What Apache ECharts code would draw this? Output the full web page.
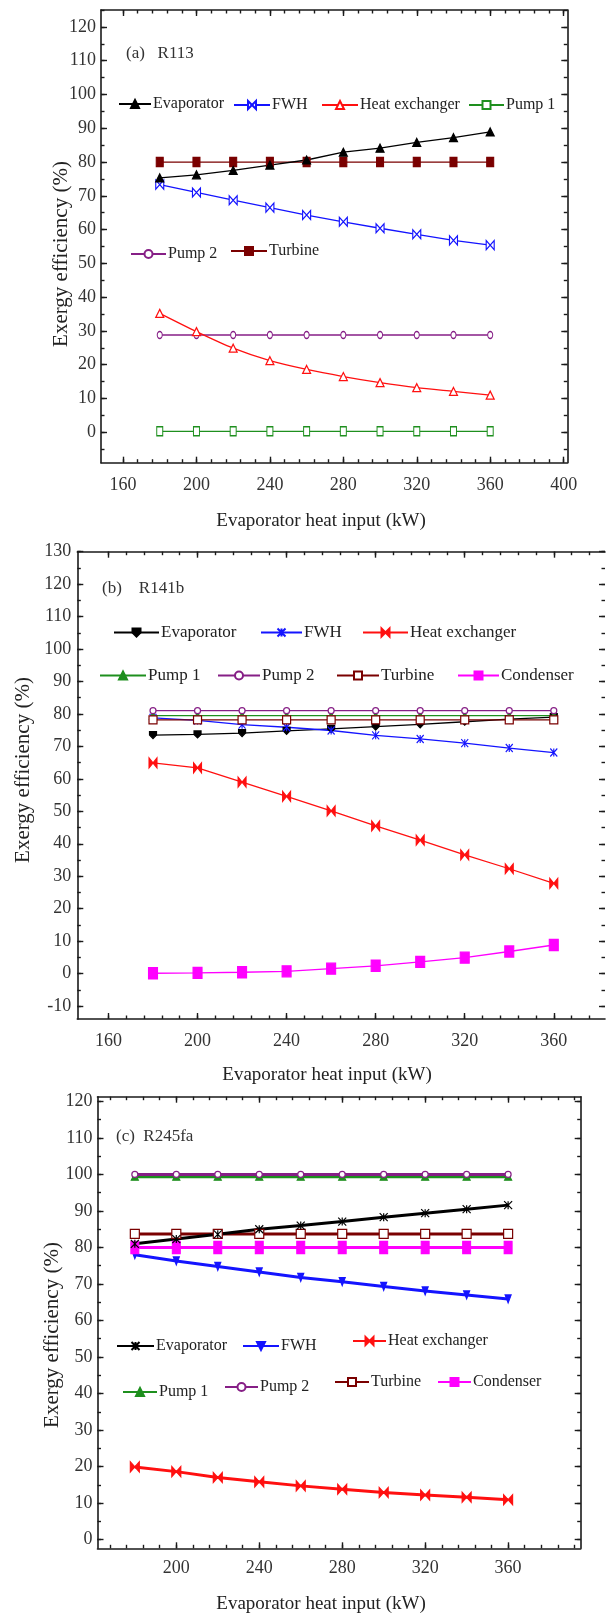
<!DOCTYPE html>
<html><head><meta charset="utf-8">
<script src="https://cdn.jsdelivr.net/npm/echarts@6/dist/echarts.min.js"></script>
<style>html,body{margin:0;padding:0;background:#fff}#c{width:607px;height:1618px}</style>
</head><body><div id="c"></div>
<script>
// ---------- DATA ----------
const xValues = [180, 200, 220, 240, 260, 280, 300, 320, 340, 360];

// Panel (a) R113
const a_evaporator = [75.3, 76.2, 77.5, 79.1, 80.6, 82.9, 84.1, 85.8, 87.2, 88.9];
const a_fwh        = [73.3, 71.0, 68.7, 66.5, 64.3, 62.3, 60.4, 58.6, 56.8, 55.4];
const a_heatExch   = [35.2, 29.8, 24.9, 21.2, 18.6, 16.5, 14.7, 13.2, 12.1, 11.0];
const a_pump1      = [0.3, 0.3, 0.3, 0.3, 0.3, 0.3, 0.3, 0.3, 0.3, 0.3];
const a_pump2      = [28.8, 28.8, 28.8, 28.8, 28.8, 28.8, 28.8, 28.8, 28.8, 28.8];
const a_turbine    = [80.0, 80.0, 80.0, 80.0, 80.0, 80.0, 80.0, 80.0, 80.0, 80.0];

// Panel (b) R141b
const b_evaporator = [73.5, 73.7, 74.1, 74.8, 75.4, 76.1, 76.8, 77.6, 78.4, 79.0];
const b_fwh        = [78.8, 78.0, 76.7, 75.9, 74.9, 73.4, 72.3, 71.0, 69.5, 68.1];
const b_heatExch   = [64.9, 63.4, 59.0, 54.6, 50.1, 45.5, 41.1, 36.6, 32.3, 27.8];
const b_pump1      = [79.5, 79.5, 79.5, 79.5, 79.5, 79.5, 79.5, 79.5, 79.5, 79.5];
const b_pump2      = [81.0, 81.0, 81.0, 81.0, 81.0, 81.0, 81.0, 81.0, 81.0, 81.0];
const b_turbine    = [78.2, 78.2, 78.2, 78.2, 78.2, 78.2, 78.2, 78.2, 78.2, 78.2];
const b_condenser  = [0.1, 0.2, 0.4, 0.7, 1.5, 2.4, 3.6, 4.9, 6.8, 8.8];

// Panel (c) R245fa
const c_evaporator = [81.0, 82.3, 83.6, 85.0, 86.0, 87.1, 88.3, 89.4, 90.5, 91.6];
const c_fwh        = [78.0, 76.3, 74.8, 73.3, 71.8, 70.6, 69.3, 68.1, 67.0, 65.9];
const c_heatExch   = [19.9, 18.6, 17.0, 15.8, 14.7, 13.8, 12.9, 12.2, 11.6, 10.9];
const c_pump1      = [99.4, 99.4, 99.4, 99.4, 99.4, 99.4, 99.4, 99.4, 99.4, 99.4];
const c_pump2      = [100.0, 100.0, 100.0, 100.0, 100.0, 100.0, 100.0, 100.0, 100.0, 100.0];
const c_turbine    = [83.7, 83.7, 83.7, 83.7, 83.7, 83.7, 83.7, 83.7, 83.7, 83.7];
const c_condenser  = [80.0, 80.0, 80.0, 80.0, 80.0, 80.0, 80.0, 80.0, 80.0, 80.0];

// Tick labels
const a_xTicks = [160, 200, 240, 280, 320, 360, 400];
const a_yTicks = [0, 10, 20, 30, 40, 50, 60, 70, 80, 90, 100, 110, 120];
const b_xTicks = [160, 200, 240, 280, 320, 360];
const b_yTicks = [-10, 0, 10, 20, 30, 40, 50, 60, 70, 80, 90, 100, 110, 120, 130];
const c_xTicks = [200, 240, 280, 320, 360];
const c_yTicks = [0, 10, 20, 30, 40, 50, 60, 70, 80, 90, 100, 110, 120];

const xTitle = 'Evaporator heat input (kW)';
const yTitle = 'Exergy efficiency (%)';

// ---------- STYLE ----------
const FONT = "'Liberation Serif','Times New Roman',serif";
const AX = '#1a1a1a';
const COL = {black:'#000000', blue:'#1414ff', red:'#ff1010', green:'#1e8f1e', purple:'#861f86', dred:'#7a0000', mag:'#ff00ff'};
const BOWTIE = 'path://M0,0 L0,10 L10,0 L10,10 Z';
const CROSS = 'path://M0,0 L10,10 M10,0 L0,10 M5,0 L5,10';
const PENT = 'path://M0,0 L10,0 L10,5 L5,10 L0,5 Z';

function pair(xs, ys){ return xs.map((x,i)=>[x, ys[i]]); }
function minorList(lo, hi, step, start){ const r=[]; for(let v=start; v<=hi+1e-9; v+=step){ if(v>=lo) r.push(v);} return r; }

const option = {animation:false, backgroundColor:'#fff', grid:[], xAxis:[], yAxis:[], series:[], legend:[], graphic:[]};

function addPanel(p){
  const gi = option.grid.length;
  option.grid.push({left:p.left, top:p.top, width:p.width, height:p.height, containLabel:false, outerBoundsMode:'none'});
  const xi = option.xAxis.length, yi = option.yAxis.length;
  const line = {show:true, onZero:false, lineStyle:{color:AX, width:1.6}};
  const noLine = {show:false, onZero:false};
  const lbl = {fontFamily:FONT, fontSize:18, color:'#333'};
  const tk = (len, vals)=>({show:true, inside:true, length:len, customValues:vals, lineStyle:{color:AX, width:1.4}});
  const base = {type:'value', gridIndex:gi, min:p.xMin, max:p.xMax, splitLine:{show:false}};
  option.xAxis.push(Object.assign({}, base, {position:'bottom', axisLine:line, axisTick:tk(6, p.xTicks),
    axisLabel:Object.assign({customValues:p.xTicks, margin:p.xMargin}, lbl)}));
  option.xAxis.push(Object.assign({}, base, {position:'bottom', axisLine:noLine, axisTick:tk(3.5, p.xMinor), axisLabel:{show:false}}));
  option.xAxis.push(Object.assign({}, base, {position:'top', axisLine:line, axisTick:tk(6, p.xTicks), axisLabel:{show:false}}));
  option.xAxis.push(Object.assign({}, base, {position:'top', axisLine:noLine, axisTick:tk(3.5, p.xMinor), axisLabel:{show:false}}));
  const ybase = {type:'value', gridIndex:gi, min:p.yMin, max:p.yMax, splitLine:{show:false}};
  option.yAxis.push(Object.assign({}, ybase, {position:'left', axisLine:line, axisTick:tk(6, p.yTicks),
    axisLabel:Object.assign({customValues:p.yTicks, margin:p.yMargin}, lbl)}));
  option.yAxis.push(Object.assign({}, ybase, {position:'left', axisLine:noLine, axisTick:tk(3.5, p.yMinor), axisLabel:{show:false}}));
  option.yAxis.push(Object.assign({}, ybase, {position:'right', axisLine:p.rightLine===false?noLine:line, axisTick:tk(6, p.yTicks), axisLabel:{show:false}}));
  option.yAxis.push(Object.assign({}, ybase, {position:'right', axisLine:noLine, axisTick:tk(3.5, p.yMinor), axisLabel:{show:false}}));

  p.series.forEach(s=>{
    option.series.push({
      type:'line', name:p.key+'|'+s.name, xAxisIndex:xi, yAxisIndex:yi,
      data:pair(xValues, s.data), symbol:s.symbol, symbolSize:s.size, symbolRotate:s.rotate||0,
      showAllSymbol:true, smooth:s.smooth||false, z:s.z||2,
      lineStyle:{color:s.color, width:p.lw},
      itemStyle:{color:s.fill, borderColor:s.color, borderWidth:s.bw==null?1.2:s.bw},
      emphasis:{disabled:true}
    });
  });
  p.legends.forEach(L=>{
    option.legend.push({
      data:[p.key+'|'+L.name], left:L.x, top:L.y - 9, padding:0, selectedMode:false,
      itemWidth:L.w, itemHeight:10, formatter:n=>n.split('|')[1],
      textStyle:{fontFamily:FONT, fontSize:p.legendFont, color:'#222', padding:[0,0,0,-3]}
    });
  });
  option.graphic.push({type:'text', left:p.tag.x, top:p.tag.y - 10,
    style:{text:p.tag.text, font:'17px '+FONT, fill:'#333'}});
  option.graphic.push({type:'text', x:p.xt.x, y:p.xt.y,
    style:{text:xTitle, font:'19px '+FONT, fill:'#222', align:'center', verticalAlign:'middle'}});
  option.graphic.push({type:'text', x:p.yt.x, y:p.yt.y, rotation:Math.PI/2,
    style:{text:yTitle, font:'21px '+FONT, fill:'#222', align:'center', verticalAlign:'middle'}});
}

// Panel (a)
addPanel({key:'a', left:101, top:10, width:466.3, height:452.7, xMin:148, xMax:402, yMin:-9, yMax:125,
  xTicks:a_xTicks, yTicks:a_yTicks, xMinor:minorList(160,402,8,160), yMinor:minorList(-9,125,5,-5),
  xMargin:14, yMargin:5, lw:1.3, legendFont:16,
  series:[
    {name:'Pump 1', data:a_pump1, color:COL.green, fill:'#fff', symbol:'rect', size:[6,9]},
    {name:'Pump 2', data:a_pump2, color:COL.purple, fill:'#fff', symbol:'circle', size:[5,7]},
    {name:'Heat exchanger', data:a_heatExch, color:COL.red, fill:'#fff', symbol:'triangle', size:8, smooth:0.25},
    {name:'FWH', data:a_fwh, color:COL.blue, fill:'#fff', symbol:BOWTIE, size:[8,9]},
    {name:'Turbine', data:a_turbine, color:COL.dred, fill:COL.dred, symbol:'rect', size:[7,9]},
    {name:'Evaporator', data:a_evaporator, color:COL.black, fill:COL.black, symbol:'triangle', size:8}
  ],
  legends:[
    {name:'Evaporator', x:118, y:105, w:32},
    {name:'FWH', x:233, y:106, w:36},
    {name:'Heat exchanger', x:321, y:106, w:36},
    {name:'Pump 1', x:468, y:106, w:35},
    {name:'Pump 2', x:130, y:255, w:35},
    {name:'Turbine', x:230, y:252, w:36}
  ],
  tag:{text:'(a)   R113', x:126, y:55},
  xt:{x:321, y:521}, yt:{x:61, y:254}
});

// Panel (b)
addPanel({key:'b', left:77.3, top:551.7, width:527.7, height:467.3, xMin:146, xMax:383, yMin:-14, yMax:130,
  xTicks:b_xTicks, yTicks:b_yTicks, xMinor:minorList(160,383,8,160), yMinor:minorList(-14,130,5,-10),
  xMargin:13, yMargin:6, lw:1.3, legendFont:17, rightLine:false,
  series:[
    {name:'Condenser', data:b_condenser, color:COL.mag, fill:COL.mag, symbol:'rect', size:[9,11]},
    {name:'Heat exchanger', data:b_heatExch, color:COL.red, fill:COL.red, symbol:BOWTIE, size:[8,10]},
    {name:'Evaporator', data:b_evaporator, color:COL.black, fill:COL.black, symbol:PENT, size:7},
    {name:'FWH', data:b_fwh, color:COL.blue, fill:COL.blue, symbol:CROSS, size:[7,8]},
    {name:'Pump 1', data:b_pump1, color:COL.green, fill:COL.green, symbol:'triangle', size:7},
    {name:'Turbine', data:b_turbine, color:COL.dred, fill:'#fff', symbol:'rect', size:8},
    {name:'Pump 2', data:b_pump2, color:COL.purple, fill:'#fff', symbol:'circle', size:6}
  ],
  legends:[
    {name:'Evaporator', x:113, y:633, w:45},
    {name:'FWH', x:260, y:633, w:41},
    {name:'Heat exchanger', x:362, y:633, w:45},
    {name:'Pump 1', x:99, y:676, w:46},
    {name:'Pump 2', x:217, y:676, w:42},
    {name:'Turbine', x:336, y:676, w:42},
    {name:'Condenser', x:457, y:676, w:41}
  ],
  tag:{text:'(b)    R141b', x:102, y:590},
  xt:{x:327, y:1075}, yt:{x:23, y:770}
});

// Panel (c)
addPanel({key:'c', left:97.5, top:1096.7, width:483.2, height:451.6, xMin:162, xMax:395, yMin:-2.4, yMax:121.3,
  xTicks:c_xTicks, yTicks:c_yTicks, xMinor:minorList(162,395,8,168), yMinor:minorList(-2.4,121.3,5,0),
  xMargin:11, yMargin:5, lw:3, legendFont:16,
  series:[
    {name:'Heat exchanger', data:c_heatExch, color:COL.red, fill:COL.red, symbol:BOWTIE, size:[9,10]},
    {name:'FWH', data:c_fwh, color:COL.blue, fill:COL.blue, symbol:'triangle', rotate:180, size:[6,8]},
    {name:'Condenser', data:c_condenser, color:COL.mag, fill:COL.mag, symbol:'rect', size:[8,12]},
    {name:'Turbine', data:c_turbine, color:COL.dred, fill:'#fff', symbol:'rect', size:9},
    {name:'Evaporator', data:c_evaporator, color:COL.black, fill:COL.black, symbol:CROSS, size:[8,8]},
    {name:'Pump 1', data:c_pump1, color:COL.green, fill:COL.green, symbol:'triangle', size:7},
    {name:'Pump 2', data:c_pump2, color:COL.purple, fill:'#fff', symbol:'circle', size:6}
  ],
  legends:[
    {name:'Evaporator', x:116, y:1347, w:37},
    {name:'FWH', x:242, y:1347, w:36},
    {name:'Heat exchanger', x:352, y:1342, w:33},
    {name:'Pump 1', x:122, y:1393, w:34},
    {name:'Pump 2', x:224, y:1388, w:33},
    {name:'Turbine', x:334, y:1383, w:34},
    {name:'Condenser', x:437, y:1383, w:33}
  ],
  tag:{text:'(c)  R245fa', x:116, y:1138},
  xt:{x:321, y:1604}, yt:{x:52, y:1335}
});

const chart = echarts.init(document.getElementById('c'), null, {renderer:'canvas'});
chart.setOption(option);
</script>
</body></html>
